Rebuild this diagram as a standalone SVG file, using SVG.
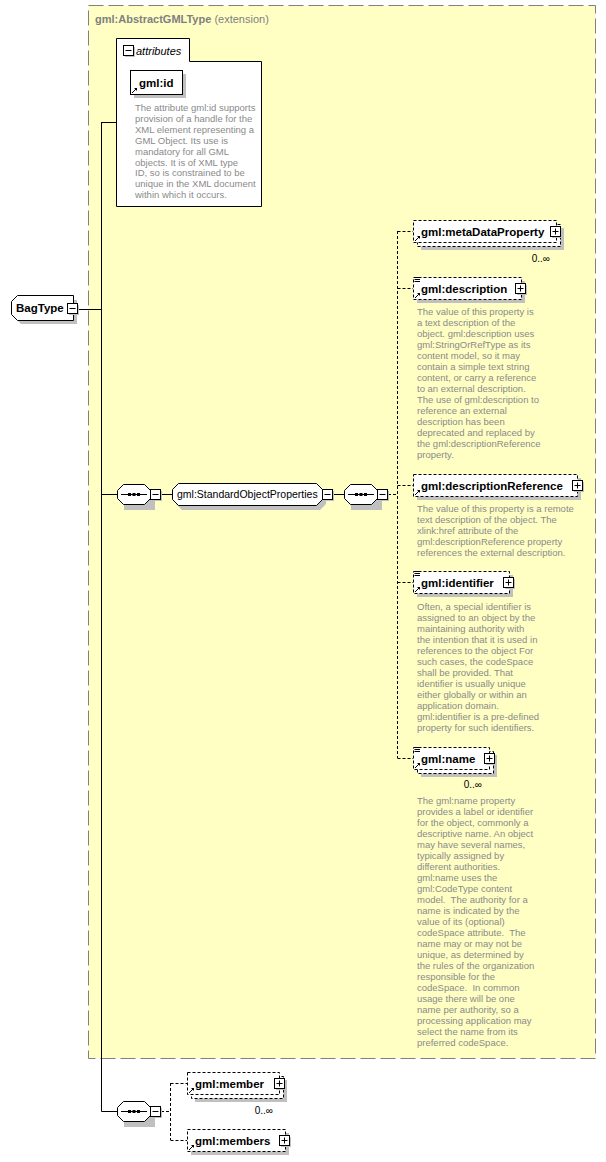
<svg xmlns="http://www.w3.org/2000/svg" width="606" height="1162" viewBox="0 0 606 1162">
<defs>
<style>
.lbl{font-family:"Liberation Sans",Arial,sans-serif;font-size:11.5px;font-weight:bold;fill:#000}
.reg{font-family:"Liberation Sans",Arial,sans-serif;font-size:10.5px;fill:#000}
.desc{font-family:"Liberation Sans",Arial,sans-serif;font-size:9.5px;fill:#8a8a8a;white-space:pre}
.occ{font-family:"Liberation Sans",Arial,sans-serif;font-size:10px;fill:#000}
.shadow{fill:#c0c0c0}
.ebox{fill:#fff;stroke:#000;stroke-width:1;stroke-dasharray:3 2}
.sbox{fill:#fff;stroke:#000;stroke-width:1}
.conn{fill:none;stroke:#000;stroke-width:1}
.dconn{fill:none;stroke:#000;stroke-width:1;stroke-dasharray:3 2}
.btn{fill:#fff;stroke:#000;stroke-width:1}
</style>
<g id="plus">
<rect x="2" y="2" width="10" height="10" class="shadow"/>
<rect x="0.5" y="0.5" width="10" height="10" class="btn"/>
<path d="M2.5,5.5H8.5M5.5,2.5V8.5" stroke="#000" stroke-width="1"/>
</g>
<g id="minus">
<rect x="2" y="2" width="10" height="10" class="shadow"/>
<rect x="0.5" y="0.5" width="10" height="10" class="btn"/>
<path d="M2.5,5.5H8.5" stroke="#000" stroke-width="1"/>
</g>
<g id="ref">
<path d="M1,7 L5,3" stroke="#000" stroke-width="1"/>
<path d="M3,2 L6,2 L6,5 Z" fill="#000"/>
</g>
<g id="lines">
<path d="M0.5,0.5H6M0.5,2.5H6M0.5,4.5H6" stroke="#000" stroke-width="1"/>
</g>
<g id="seq">
<polygon points="10,9 41,9 41,29 10,29" class="shadow" transform="translate(-3,-3)"/>
<polygon points="6.5,0.5 27.5,0.5 33.5,6.5 33.5,14.5 27.5,20.5 6.5,20.5 0.5,14.5 0.5,6.5" class="sbox"/>
<path d="M4,10.5H30" stroke="#000" stroke-width="1"/>
<rect x="11" y="9" width="3" height="3" fill="#000"/>
<rect x="15.5" y="9" width="3" height="3" fill="#000"/>
<rect x="20" y="9" width="3" height="3" fill="#000"/>
</g>
</defs>

<rect x="88.5" y="5.5" width="507" height="1053" fill="#FFFFC4" stroke="#808080" stroke-width="1" stroke-dasharray="15 5"/>
<text x="95" y="23" font-family="Liberation Sans,Arial,sans-serif" font-size="11px" fill="#808080"><tspan font-weight="bold">gml:AbstractGMLType</tspan> (extension)</text>

<g id="connectors">
<path class="conn" d="M78,309.5H101.5M101.5,122V1111.5M101.5,122.5H116M101.5,494.5H117M161,494.5H172M332,494.5H344M101.5,1111.5H117"/>
<path class="dconn" d="M388,494.5H397.5M397.5,231V758M397.5,231.5H413M397.5,288.5H413M397.5,485.5H413M397.5,582.5H413M397.5,758.5H413"/>
<path class="dconn" d="M161,1111.5H170.5M170.5,1083V1140M170.5,1083.5H187M170.5,1140.5H187"/>
</g>

<g id="BagType">
<polygon points="21,300 77,300 77,324 21,324 15,318 15,306" class="shadow"/>
<polygon points="17.5,295.5 73.5,295.5 73.5,320.5 17.5,320.5 11.5,314.5 11.5,301.5" class="sbox"/>
<text x="16" y="312" class="lbl" font-size="11px">BagType</text>
<use href="#minus" x="67" y="303"/>
</g>

<g id="attributes">
<path d="M116.5,38.5H189.5V61.5H261.5V206.5H116.5Z" fill="#fff" stroke="#000" stroke-width="1"/>
<use href="#minus" x="123" y="45"/>
<text x="136" y="55" font-family="Liberation Sans,Arial,sans-serif" font-size="11px" font-style="italic">attributes</text>
</g>

<g id="gml-id">
<rect x="134" y="74" width="52" height="24" class="shadow"/>
<rect x="130.5" y="70.5" width="52" height="24" class="sbox"/>
<use href="#ref" x="131" y="86"/>
<text x="139" y="87" class="lbl">gml:id</text>
<text class="desc" x="135" y="111">The attribute gml:id supports</text>
<text class="desc" x="135" y="122">provision of a handle for the</text>
<text class="desc" x="135" y="132.5">XML element representing a</text>
<text class="desc" x="135" y="143.5">GML Object. Its use is</text>
<text class="desc" x="135" y="154.5">mandatory for all GML</text>
<text class="desc" x="135" y="165.5">objects. It is of XML type</text>
<text class="desc" x="135" y="176">ID, so is constrained to be</text>
<text class="desc" x="135" y="187">unique in the XML document</text>
<text class="desc" x="135" y="198">within which it occurs.</text>
</g>

<g id="seq1"><use href="#seq" x="117" y="484"/><use href="#minus" x="150" y="489"/></g>

<g id="StandardObjectProperties">
<polygon points="182,488 320,488 326,494 326,504 320,510 182,510 176,504 176,494" class="shadow"/>
<polygon points="178.5,483.5 316.5,483.5 322.5,489.5 322.5,499.5 316.5,505.5 178.5,505.5 172.5,499.5 172.5,489.5" class="sbox"/>
<text x="177" y="498" class="reg">gml:StandardObjectProperties</text>
<use href="#minus" x="322" y="489"/>
</g>

<g id="seq2"><use href="#seq" x="344" y="484"/><use href="#minus" x="377" y="489"/></g>

<g id="metaDataProperty">
<rect x="421" y="228" width="143" height="22" class="shadow"/>
<rect x="417.5" y="224.5" width="143" height="22" class="ebox"/>
<rect x="413.5" y="220.5" width="143" height="22" class="ebox"/>
<use href="#ref" x="414" y="234"/>
<text x="421" y="236" class="lbl">gml:metaDataProperty</text>
<use href="#plus" x="550" y="226"/>
<text x="550" y="262" class="occ" text-anchor="end">0..∞</text>
</g>

<g id="description">
<rect x="417" y="281" width="108" height="22" class="shadow"/>
<rect x="413.5" y="277.5" width="108" height="22" class="ebox"/>
<use href="#lines" x="414" y="277"/>
<use href="#ref" x="414" y="291"/>
<text x="421" y="293" class="lbl">gml:description</text>
<use href="#plus" x="515" y="283"/>
<text class="desc" x="417" y="315">The value of this property is</text>
<text class="desc" x="417" y="326">a text description of the</text>
<text class="desc" x="417" y="337">object. gml:description uses</text>
<text class="desc" x="417" y="348">gml:StringOrRefType as its</text>
<text class="desc" x="417" y="359">content model, so it may</text>
<text class="desc" x="417" y="370">contain a simple text string</text>
<text class="desc" x="417" y="381">content, or carry a reference</text>
<text class="desc" x="417" y="392">to an external description.</text>
<text class="desc" x="417" y="403">The use of gml:description to</text>
<text class="desc" x="417" y="414">reference an external</text>
<text class="desc" x="417" y="425">description has been</text>
<text class="desc" x="417" y="436">deprecated and replaced by</text>
<text class="desc" x="417" y="447">the gml:descriptionReference</text>
<text class="desc" x="417" y="458">property.</text>
</g>

<g id="descriptionReference">
<rect x="417" y="478" width="164" height="22" class="shadow"/>
<rect x="413.5" y="474.5" width="164" height="22" class="ebox"/>
<use href="#ref" x="414" y="488"/>
<text x="421" y="490" class="lbl">gml:descriptionReference</text>
<use href="#plus" x="572" y="480"/>
<text class="desc" x="417" y="512">The value of this property is a remote</text>
<text class="desc" x="417" y="523">text description of the object. The</text>
<text class="desc" x="417" y="534">xlink:href attribute of the</text>
<text class="desc" x="417" y="545">gml:descriptionReference property</text>
<text class="desc" x="417" y="556">references the external description.</text>
</g>

<g id="identifier">
<rect x="417" y="575" width="96" height="22" class="shadow"/>
<rect x="413.5" y="571.5" width="96" height="22" class="ebox"/>
<use href="#lines" x="414" y="571"/>
<use href="#ref" x="414" y="585"/>
<text x="421" y="587" class="lbl">gml:identifier</text>
<use href="#plus" x="503" y="577"/>
<text class="desc" x="417" y="610">Often, a special identifier is</text>
<text class="desc" x="417" y="621">assigned to an object by the</text>
<text class="desc" x="417" y="632">maintaining authority with</text>
<text class="desc" x="417" y="643">the intention that it is used in</text>
<text class="desc" x="417" y="654">references to the object For</text>
<text class="desc" x="417" y="665">such cases, the codeSpace</text>
<text class="desc" x="417" y="676">shall be provided. That</text>
<text class="desc" x="417" y="687">identifier is usually unique</text>
<text class="desc" x="417" y="698">either globally or within an</text>
<text class="desc" x="417" y="709">application domain.</text>
<text class="desc" x="417" y="720">gml:identifier is a pre-defined</text>
<text class="desc" x="417" y="731">property for such identifiers.</text>
</g>

<g id="name">
<rect x="421" y="755" width="76" height="22" class="shadow"/>
<rect x="417.5" y="751.5" width="76" height="22" class="ebox"/>
<rect x="413.5" y="747.5" width="76" height="22" class="ebox"/>
<use href="#lines" x="414" y="747"/>
<use href="#ref" x="414" y="761"/>
<text x="421" y="763" class="lbl">gml:name</text>
<use href="#plus" x="484" y="753"/>
<text x="482" y="788" class="occ" text-anchor="end">0..∞</text>
<text class="desc" x="417" y="804">The gml:name property</text>
<text class="desc" x="417" y="815">provides a label or identifier</text>
<text class="desc" x="417" y="826">for the object, commonly a</text>
<text class="desc" x="417" y="837">descriptive name. An object</text>
<text class="desc" x="417" y="848">may have several names,</text>
<text class="desc" x="417" y="859">typically assigned by</text>
<text class="desc" x="417" y="870">different authorities.</text>
<text class="desc" x="417" y="881">gml:name uses the</text>
<text class="desc" x="417" y="892">gml:CodeType content</text>
<text class="desc" x="417" y="903">model.  The authority for a</text>
<text class="desc" x="417" y="914">name is indicated by the</text>
<text class="desc" x="417" y="925">value of its (optional)</text>
<text class="desc" x="417" y="936">codeSpace attribute.  The</text>
<text class="desc" x="417" y="947">name may or may not be</text>
<text class="desc" x="417" y="958">unique, as determined by</text>
<text class="desc" x="417" y="969">the rules of the organization</text>
<text class="desc" x="417" y="980">responsible for the</text>
<text class="desc" x="417" y="991">codeSpace.  In common</text>
<text class="desc" x="417" y="1002">usage there will be one</text>
<text class="desc" x="417" y="1013">name per authority, so a</text>
<text class="desc" x="417" y="1024">processing application may</text>
<text class="desc" x="417" y="1035">select the name from its</text>
<text class="desc" x="417" y="1046">preferred codeSpace.</text>
</g>

<g id="seq3"><use href="#seq" x="117" y="1101"/><use href="#minus" x="150" y="1106"/></g>

<g id="member">
<rect x="195" y="1080" width="92" height="22" class="shadow"/>
<rect x="191.5" y="1076.5" width="92" height="22" class="ebox"/>
<rect x="187.5" y="1072.5" width="92" height="22" class="ebox"/>
<use href="#ref" x="188" y="1086"/>
<text x="195" y="1088" class="lbl">gml:member</text>
<use href="#plus" x="274" y="1078"/>
<text x="273" y="1114" class="occ" text-anchor="end">0..∞</text>
</g>

<g id="members">
<rect x="191" y="1133" width="98" height="22" class="shadow"/>
<rect x="187.5" y="1129.5" width="98" height="22" class="ebox"/>
<use href="#ref" x="188" y="1143"/>
<text x="195" y="1145" class="lbl">gml:members</text>
<use href="#plus" x="279" y="1135"/>
</g>
</svg>
